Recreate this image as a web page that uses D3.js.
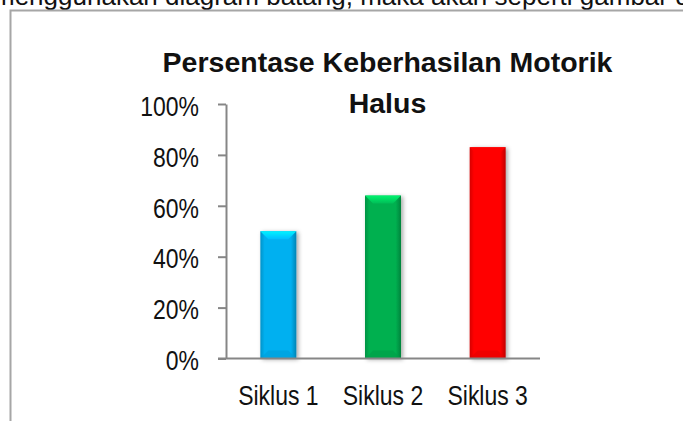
<!DOCTYPE html>
<html>
<head>
<meta charset="utf-8">
<script src="https://cdn.jsdelivr.net/npm/d3@7"></script>
<style>
  body { margin: 0; background: #fff; overflow: hidden; }
  svg { display: block; }
  .lbl { font-family: "Liberation Sans", Arial, sans-serif; font-size: 28px; fill: #111; }
</style>
</head>
<body>
<div id="chart"></div>
<script>
// data
var categories = ["Siklus 1", "Siklus 2", "Siklus 3"];
var values = [0.50, 0.64, 0.83];
var barColors = ["#00B0F0", "#00B050", "#FF0000"];
var yTicks = [0, 0.2, 0.4, 0.6, 0.8, 1.0];
var titleLines = ["Persentase Keberhasilan Motorik", "Halus"];
var pageText = "menggunakan diagram batang, maka akan seperti gambar di";

var width = 683, height = 421;

var svg = d3.select("#chart").append("svg").attr("width", width).attr("height", height);
var defs = svg.append("defs");

// leftover of the document text above the picture
svg.append("text")
	.attr("x", -7).attr("y", 4.5)
	.style("font-family", "'Liberation Sans', Arial, sans-serif")
	.style("font-size", "26px").style("fill", "#111")
	.text(pageText);

// chart frame
svg.append("path")
	.attr("d", "M10.5," + (height + 2) + "V10.5H" + (width + 2))
	.attr("fill", "none").attr("stroke", "#a6a6a6").attr("stroke-width", 2);

var x = d3.scaleBand()
	.domain(categories)
	.range([226, 540])
	.paddingInner(0.656)
	.paddingOuter(0.328);

var y = d3.scaleLinear()
	.domain([0, 1])
	.range([358.5, 104]);

// title
svg.append("text")
	.attr("x", 387.5).attr("y", 72)
	.attr("text-anchor", "middle")
	.style("font-family", "'Liberation Sans', Arial, sans-serif")
	.style("font-size", "28.5px").style("font-weight", "bold").style("fill", "#111")
	.selectAll("tspan").data(titleLines).enter().append("tspan")
	.attr("x", 387.5).attr("dy", function(d, i){ return i == 0 ? 0 : 41; })
	.text(function(d){ return d; });

// gradients for the bevelled bars
var shadow = defs.append("filter").attr("id", "shadow")
	.attr("x", "-30%").attr("y", "-10%").attr("width", "160%").attr("height", "120%");
shadow.append("feDropShadow").attr("dx", 2).attr("dy", 1).attr("stdDeviation", 2)
	.attr("flood-color", "#000").attr("flood-opacity", 0.35);

barColors.forEach(function(c, i){
	var base = d3.color(c);
	var g = defs.append("linearGradient").attr("id", "side" + i)
		.attr("x1", 0).attr("x2", 1).attr("y1", 0).attr("y2", 0);
	g.append("stop").attr("offset", "0%").attr("stop-color", base.darker(0.5));
	g.append("stop").attr("offset", "12%").attr("stop-color", base);
	g.append("stop").attr("offset", "85%").attr("stop-color", base);
	g.append("stop").attr("offset", "100%").attr("stop-color", base.darker(0.8));
	var t = defs.append("linearGradient").attr("id", "top" + i)
		.attr("x1", 0).attr("x2", 0).attr("y1", 0).attr("y2", 1);
	t.append("stop").attr("offset", "0%").attr("stop-color", base.brighter(0.9));
	t.append("stop").attr("offset", "100%").attr("stop-color", base.brighter(0.2));
});

var bars = svg.append("g").selectAll("g.bar")
	.data(categories).enter().append("g").attr("class", "bar");

bars.append("rect")
	.attr("x", function(d){ return x(d); })
	.attr("y", function(d, i){ return y(values[i]); })
	.attr("width", x.bandwidth())
	.attr("height", function(d, i){ return y(0) - y(values[i]); })
	.attr("fill", function(d, i){ return "url(#side" + i + ")"; })
	.attr("filter", "url(#shadow)");

var bev = 8;
bars.append("path")
	.attr("d", function(d, i){
		var x0 = x(d), x1 = x(d) + x.bandwidth(), t = y(values[i]);
		return "M" + x0 + "," + t + "H" + x1 + "L" + (x1 - bev) + "," + (t + bev) +
			"H" + (x0 + bev) + "Z";
	})
	.attr("fill", function(d, i){ return "url(#top" + i + ")"; });

bars.append("path")
	.attr("d", function(d, i){
		var x0 = x(d), x1 = x(d) + x.bandwidth(), b = y(0);
		return "M" + x0 + "," + b + "H" + x1 + "L" + (x1 - bev) + "," + (b - bev) +
			"H" + (x0 + bev) + "Z";
	})
	.attr("fill", function(d, i){ return d3.color(barColors[i]).darker(0.3); })
	.attr("opacity", 0.6);

// narrow look of the axis labels
function condense(sel){
	sel.each(function(){
		var w = this.getComputedTextLength();
		d3.select(this).attr("textLength", w * 0.82).attr("lengthAdjust", "spacingAndGlyphs");
	});
}

// axes
var yAxis = d3.axisLeft(y).tickValues(yTicks).tickFormat(d3.format(".0%"))
	.tickSize(8).tickPadding(19).tickSizeOuter(0);
var gy = svg.append("g").attr("transform", "translate(226,0)").call(yAxis);
gy.select(".domain").attr("stroke", "#868686").attr("stroke-width", 2);
gy.selectAll(".tick line").attr("stroke", "#868686").attr("stroke-width", 2);
gy.selectAll(".tick text").attr("class", "lbl").attr("dy", "0.4em").call(condense);

var xAxis = d3.axisBottom(x).tickSize(0).tickPadding(0).tickSizeOuter(0);
var gx = svg.append("g").attr("transform", "translate(0," + y(0) + ")").call(xAxis);
gx.select(".domain").attr("d", "M218,0H540").attr("stroke", "#868686").attr("stroke-width", 2);
gx.selectAll(".tick text").attr("class", "lbl").attr("dy", null).attr("y", 46.5).call(condense);
</script>
</body>
</html>
